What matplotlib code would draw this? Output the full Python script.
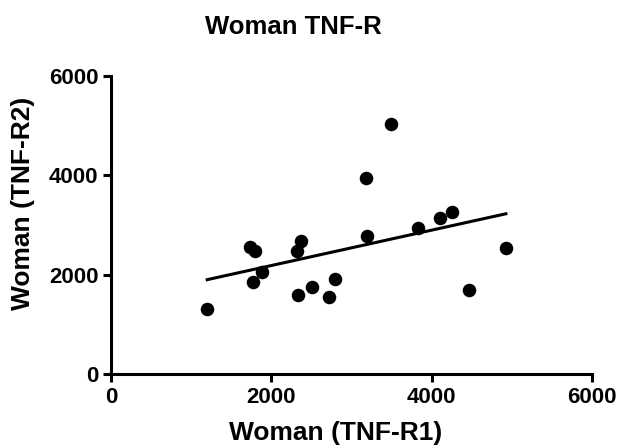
import numpy as np
import matplotlib.pyplot as plt

plt.rcParams['font.family'] = ['Liberation Sans', 'DejaVu Sans']
plt.rcParams['font.weight'] = 'bold'

tnf_r1 = [1200, 1738, 1800, 1771, 1883, 2321, 2371, 2329, 2508, 2713,
          2792, 3179, 3196, 3492, 3829, 4108, 4250, 4463, 4925]
tnf_r2 = [1308, 2563, 2482, 1858, 2047, 2469, 2684, 1584, 1758, 1543,
          1919, 3946, 2778, 5039, 2933, 3134, 3268, 1697, 2543]
ticks = [0, 2000, 4000, 6000]

x = np.array(tnf_r1, dtype=float)
y = np.array(tnf_r2, dtype=float)
slope, icpt = np.polyfit(x, y, 1)
xf = np.array([x.min(), x.max()])

fig = plt.figure(figsize=(6.2, 4.48), dpi=100)
ax = fig.add_axes([0.179, 0.165, 0.776, 0.665])

ax.scatter(x, y, s=95, color='black', zorder=3, linewidths=0)
ax.plot(xf, slope * xf + icpt, color='black', lw=2.2, zorder=2)

ax.set_xlim(0, 6000)
ax.set_ylim(0, 6000)
ax.set_xticks(ticks)
ax.set_yticks(ticks)
ax.spines[['top', 'right']].set_visible(False)
for s in ['left', 'bottom']:
    ax.spines[s].set_linewidth(2.2)
ax.tick_params(width=2.2, length=6, labelsize=16, pad=3)
for lab in ax.get_xticklabels() + ax.get_yticklabels():
    lab.set_fontweight('bold')

fig.text(0.473, 0.939, 'Woman TNF-R', ha='center', va='center',
         fontsize=18.5, fontweight='bold')
fig.text(0.542, 0.034, 'Woman (TNF-R1)', ha='center', va='center',
         fontsize=19, fontweight='bold')
fig.text(0.037, 0.547, 'Woman (TNF-R2)', ha='center', va='center',
         rotation=90, fontsize=19, fontweight='bold')

fig.savefig('out.png', dpi=100)
